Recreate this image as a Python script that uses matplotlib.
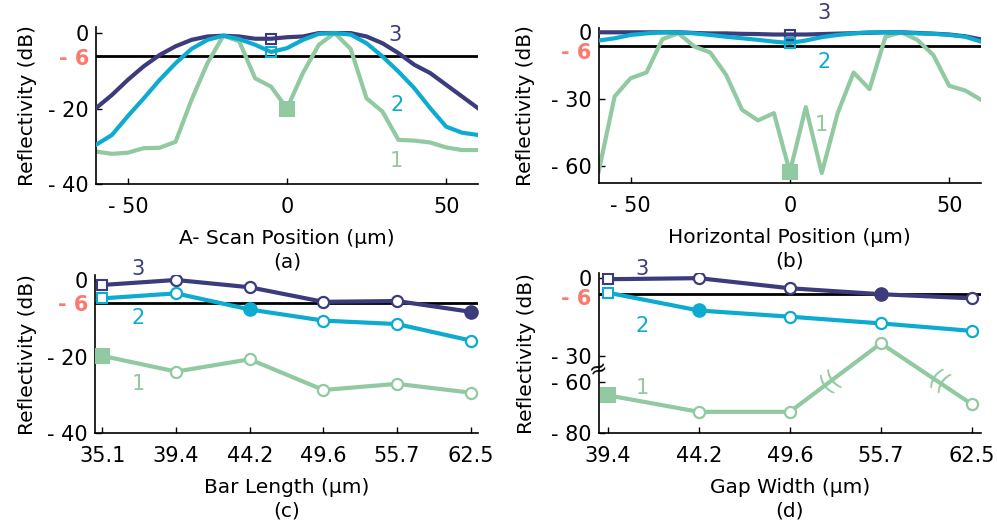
import numpy as np
from matplotlib import pyplot as plt

NAVY = '#3c3c7c'
CYAN = '#0eabd1'
GREEN = '#91c9a0'
RED = '#fa7a6e'

# (a) A-scan position
a_x = [-60, -55, -50, -45, -40, -35, -30, -25, -20, -15, -10, -5, 0,
       5, 10, 15, 20, 25, 30, 35, 40, 45, 50, 55, 60]
a_l1 = [-31.4, -32.0, -31.7, -30.5, -30.4, -28.8, -17.7, -8.0, -0.7, -2.2, -12.0, -14.2, -20.0,
        -10.6, -3.1, 0.0, -4.2, -17.3, -20.8, -28.3, -28.5, -29.0, -30.3, -31.0, -31.0]
a_l2 = [-29.6, -27.0, -22.0, -17.3, -12.4, -8.0, -4.2, -1.8, -0.7, -1.6, -3.1, -5.0, -4.0,
        -1.8, -0.2, 0.0, -0.4, -2.7, -6.2, -10.2, -14.6, -19.9, -24.8, -26.4, -27.0]
a_l3 = [-19.9, -16.4, -12.4, -8.8, -5.8, -3.5, -1.8, -0.9, -0.7, -0.9, -1.5, -1.5, -1.1,
        -0.9, 0.0, 0.0, 0.0, -0.9, -2.7, -5.3, -8.4, -10.6, -13.7, -16.8, -19.9]

# (b) horizontal position
b_x = a_x
b_l1 = [-62.7, -28.9, -20.7, -18.1, -3.1, -0.4, -6.4, -9.1, -19.2, -34.9, -39.7, -36.4, -63.0,
        -33.7, -63.4, -36.4, -18.1, -25.6, -2.0, 0.0, -3.4, -10.2, -24.1, -26.2, -30.4]
b_l2 = [-3.7, -2.7, -1.2, -0.5, 0.0, 0.0, -0.5, -1.2, -2.0, -2.7, -3.4, -4.2, -4.8,
        -3.7, -2.2, -1.2, -0.5, 0.0, 0.0, 0.0, -0.5, -0.7, -1.2, -2.0, -4.2]
b_l3 = [0.0, 0.0, 0.0, 0.0, 0.0, 0.0, -0.3, -0.5, -0.5, -0.7, -0.8, -1.0, -1.0,
        -1.0, -0.8, -0.6, -0.4, -0.2, 0.0, 0.0, -0.3, -0.6, -1.0, -1.8, -3.2]

# (c) bar length
c_labels = ['35.1', '39.4', '44.2', '49.6', '55.7', '62.5']
c_l1 = [-19.8, -23.9, -20.7, -28.7, -27.1, -29.4]
c_l2 = [-4.8, -3.5, -7.7, -10.6, -11.5, -15.8]
c_l3 = [-1.3, 0.0, -1.9, -5.7, -5.5, -8.3]

# (d) gap width
d_labels = ['39.4', '44.2', '49.6', '55.7', '62.5']
d_l1 = [-65.3, -71.7, -71.7, -25.2, -68.8]
d_l2 = [-5.6, -12.5, -14.9, -17.5, -20.4]
d_l3 = [-0.4, 0.0, -3.9, -6.2, -7.8]

FS = 14
TFS = 15
plt.rcParams['font.family'] = 'DejaVu Sans'
plt.rcParams['font.size'] = FS

fig = plt.figure(figsize=(9.97, 5.25), dpi=100)


def style_axes(ax, xlabel, tag, ylab_off):
	ax.spines['top'].set_visible(False)
	ax.spines['right'].set_visible(False)
	for s in ['left', 'bottom']:
		ax.spines[s].set_linewidth(1.2)
	ax.tick_params(direction='in', length=4, width=1.0, labelsize=TFS)
	ax.tick_params(axis='x', pad=9)
	ax.tick_params(axis='y', pad=5)
	ax.annotate(xlabel, xy=(0.5, 0), xycoords='axes fraction', xytext=(0, -54),
	            textcoords='offset pixels', ha='center', va='center', fontsize=FS + 0.5)
	ax.annotate(tag, xy=(0.5, 0), xycoords='axes fraction', xytext=(0, -78),
	            textcoords='offset pixels', ha='center', va='center', fontsize=FS + 0.5)
	ax.annotate('Reflectivity (dB)', xy=(0, 0.5), xycoords='axes fraction', xytext=(ylab_off, 0),
	            textcoords='offset pixels', ha='center', va='center', rotation=90, fontsize=FS + 0.5)
	ax.axhline(-6, color='black', lw=2.0, zorder=1)


def yticks_red(ax, ticks, labels, drop):
	# the -6 label sits a little below its tick, as in the original
	ax.set_yticks(ticks)
	ax.set_yticklabels(['' if s == '- 6' else s for s in labels])
	ax.annotate('- 6', xy=(0, -6), xycoords=ax.get_yaxis_transform(), xytext=(-7, -drop),
	            textcoords='offset pixels', ha='right', va='center', color=RED,
	            fontweight='bold', fontsize=TFS)


lw = 3.0
open_sq = dict(marker='s', ms=7, mew=1.5, mfc='none', ls='none', zorder=5)
fill_sq = dict(marker='s', ms=10, mew=1.5, ls='none', zorder=5)
open_ci = dict(marker='o', ms=8, mew=1.6, mfc='white')
fill_ci = dict(marker='o', ms=9, mew=1.5, ls='none', zorder=5)

# ---------- (a)
ax = fig.add_axes([0.0963, 0.6495, 0.3831, 0.2990])
ax.plot(a_x, a_l3, color=NAVY, lw=lw, zorder=3)
ax.plot(a_x, a_l2, color=CYAN, lw=lw, zorder=3)
ax.plot(a_x, a_l1, color=GREEN, lw=lw, zorder=2)
i = a_x.index(-5)
ax.plot(a_x[i], a_l3[i], color=NAVY, mec=NAVY, **open_sq)
ax.plot(a_x[i], a_l2[i], color=CYAN, mec=CYAN, **open_sq)
i = a_x.index(0)
ax.plot(a_x[i], a_l1[i], color=GREEN, mec=GREEN, mfc=GREEN, **fill_sq)
ax.set_xlim(-60, 60)
ax.set_ylim(-40, 1.6)
ax.set_xticks([-50, 0, 50])
ax.set_xticklabels(['- 50', '0', '50'])
yticks_red(ax, [0, -6, -20, -40], ['0', '- 6', '- 20', '- 40'], 3)
ax.text(34, -0.5, '3', color=NAVY, ha='center', va='center', fontsize=FS + 1)
ax.text(34.5, -19, '2', color=CYAN, ha='center', va='center', fontsize=FS + 1)
ax.text(34.5, -34, '1', color=GREEN, ha='center', va='center', fontsize=FS + 1)
style_axes(ax, 'A- Scan Position (µm)', '(a)', -69)

# ---------- (b)
ax = fig.add_axes([0.6005, 0.6509, 0.3835, 0.2952])
ax.plot(b_x, b_l3, color=NAVY, lw=lw, zorder=3)
ax.plot(b_x, b_l2, color=CYAN, lw=lw, zorder=3)
ax.plot(b_x, b_l1, color=GREEN, lw=lw, zorder=2)
i = b_x.index(0)
ax.plot(b_x[i], b_l3[i], color=NAVY, mec=NAVY, **open_sq)
ax.plot(b_x[i], b_l2[i], color=CYAN, mec=CYAN, **open_sq)
ax.plot(b_x[i], b_l1[i], color=GREEN, mec=GREEN, mfc=GREEN, **fill_sq)
ax.set_xlim(-60, 60)
ax.set_ylim(-68, 1.8)
ax.set_xticks([-50, 0, 50])
ax.set_xticklabels(['- 50', '0', '50'])
yticks_red(ax, [0, -6, -30, -60], ['0', '- 6', '- 30', '- 60'], 7)
ax.text(10.8, 8.7, '3', color=NAVY, ha='center', va='center', fontsize=FS + 1)
ax.text(10.8, -13.3, '2', color=CYAN, ha='center', va='center', fontsize=FS + 1)
ax.text(10, -41.7, '1', color=GREEN, ha='center', va='center', fontsize=FS + 1)
style_axes(ax, 'Horizontal Position (µm)', '(b)', -73)

# ---------- (c)
ax = fig.add_axes([0.0953, 0.1747, 0.3842, 0.3015])
cx = np.arange(len(c_labels))
ax.plot(cx[1:], c_l3[1:], color=NAVY, mec=NAVY, lw=lw, zorder=3, **open_ci)
ax.plot(cx[:2], c_l3[:2], color=NAVY, lw=lw, zorder=2)
ax.plot(cx[1:], c_l2[1:], color=CYAN, mec=CYAN, lw=lw, zorder=3, **open_ci)
ax.plot(cx[:2], c_l2[:2], color=CYAN, lw=lw, zorder=2)
ax.plot(cx[1:], c_l1[1:], color=GREEN, mec=GREEN, lw=lw, zorder=3, **open_ci)
ax.plot(cx[:2], c_l1[:2], color=GREEN, lw=lw, zorder=2)
ax.plot(cx[0], c_l3[0], color=NAVY, mec=NAVY, mfc='white', marker='s', ms=7, mew=1.5, ls='none', zorder=5)
ax.plot(cx[0], c_l2[0], color=CYAN, mec=CYAN, mfc='white', marker='s', ms=7, mew=1.5, ls='none', zorder=5)
ax.plot(cx[0], c_l1[0], color=GREEN, mec=GREEN, mfc=GREEN, **fill_sq)
ax.plot(cx[5], c_l3[5], color=NAVY, mec=NAVY, mfc=NAVY, **fill_ci)
ax.plot(cx[2], c_l2[2], color=CYAN, mec=CYAN, mfc=CYAN, **fill_ci)
ax.set_xlim(-0.1, 5.1)
ax.set_ylim(-40, 1.3)
ax.set_xticks(cx)
ax.set_xticklabels(c_labels)
yticks_red(ax, [0, -6, -20, -40], ['0', '- 6', '- 20', '- 40'], 2)
ax.text(0.49, 2.9, '3', color=NAVY, ha='center', va='center', fontsize=FS + 1)
ax.text(0.49, -9.9, '2', color=CYAN, ha='center', va='center', fontsize=FS + 1)
ax.text(0.49, -27.2, '1', color=GREEN, ha='center', va='center', fontsize=FS + 1)
style_axes(ax, 'Bar Length (µm)', '(c)', -68)


# ---------- (d) broken axis: values below -60 shifted up by 20
def brk(v):
	v = np.asarray(v, dtype=float)
	return np.where(v <= -60, v + 20, v)


ax = fig.add_axes([0.6005, 0.1747, 0.3835, 0.3048])
dx = np.arange(len(d_labels))
t1 = brk(d_l1)
ax.plot(dx[1:], d_l3[1:], color=NAVY, mec=NAVY, lw=lw, zorder=3, **open_ci)
ax.plot(dx[:2], d_l3[:2], color=NAVY, lw=lw, zorder=2)
ax.plot(dx[1:], d_l2[1:], color=CYAN, mec=CYAN, lw=lw, zorder=3, **open_ci)
ax.plot(dx[:2], d_l2[:2], color=CYAN, lw=lw, zorder=2)
ax.plot(dx[1:], t1[1:], color=GREEN, mec=GREEN, lw=lw, zorder=3, **open_ci)
ax.plot(dx[:2], t1[:2], color=GREEN, lw=lw, zorder=2)
ax.plot(dx[0], d_l3[0], color=NAVY, mec=NAVY, mfc='white', marker='s', ms=7, mew=1.5, ls='none', zorder=5)
ax.plot(dx[0], d_l2[0], color=CYAN, mec=CYAN, mfc='white', marker='s', ms=7, mew=1.5, ls='none', zorder=5)
ax.plot(dx[0], t1[0], color=GREEN, mec=GREEN, mfc=GREEN, **fill_sq)
ax.plot(dx[3], d_l3[3], color=NAVY, mec=NAVY, mfc=NAVY, **fill_ci)
ax.plot(dx[1], d_l2[1], color=CYAN, mec=CYAN, mfc=CYAN, **fill_ci)
ax.set_xlim(-0.1, 4.1)
ax.set_ylim(-60, 1.9)
ax.set_xticks(dx)
ax.set_xticklabels(d_labels)
yticks_red(ax, [0, -6, -30, -40, -60], ['0', '- 6', '- 30', '- 60', '- 80'], 5)
ax.text(0.38, 3.6, '3', color=NAVY, ha='center', va='center', fontsize=FS + 1)
ax.text(0.38, -18.4, '2', color=CYAN, ha='center', va='center', fontsize=FS + 1)
ax.text(0.38, -42.5, '1', color=GREEN, ha='center', va='center', fontsize=FS + 1)
style_axes(ax, 'Gap Width (µm)', '(d)', -72)

# break symbol on the y axis
ax.text(0, -35, '≈', transform=ax.get_yaxis_transform(), ha='center', va='center',
        fontsize=16, rotation=20, zorder=6)

# break marks on segments crossing the gap
for k in range(len(d_l1) - 1):
	y0, y1 = d_l1[k], d_l1[k + 1]
	if (y0 > -30) != (y1 > -30):
		ta, tb = t1[k], t1[k + 1]
		f = (-40 - ta) / (tb - ta)
		xm = dx[k] + f * (dx[k + 1] - dx[k])
		p0 = ax.transData.transform((dx[k], ta))
		p1 = ax.transData.transform((dx[k + 1], tb))
		ang = np.degrees(np.arctan2(p1[1] - p0[1], p1[0] - p0[0]))
		ax.text(xm, -40, '((', color=GREEN, ha='center', va='center', fontsize=17,
		        rotation=ang, rotation_mode='anchor', zorder=6)

fig.savefig('out.png', dpi=100)
